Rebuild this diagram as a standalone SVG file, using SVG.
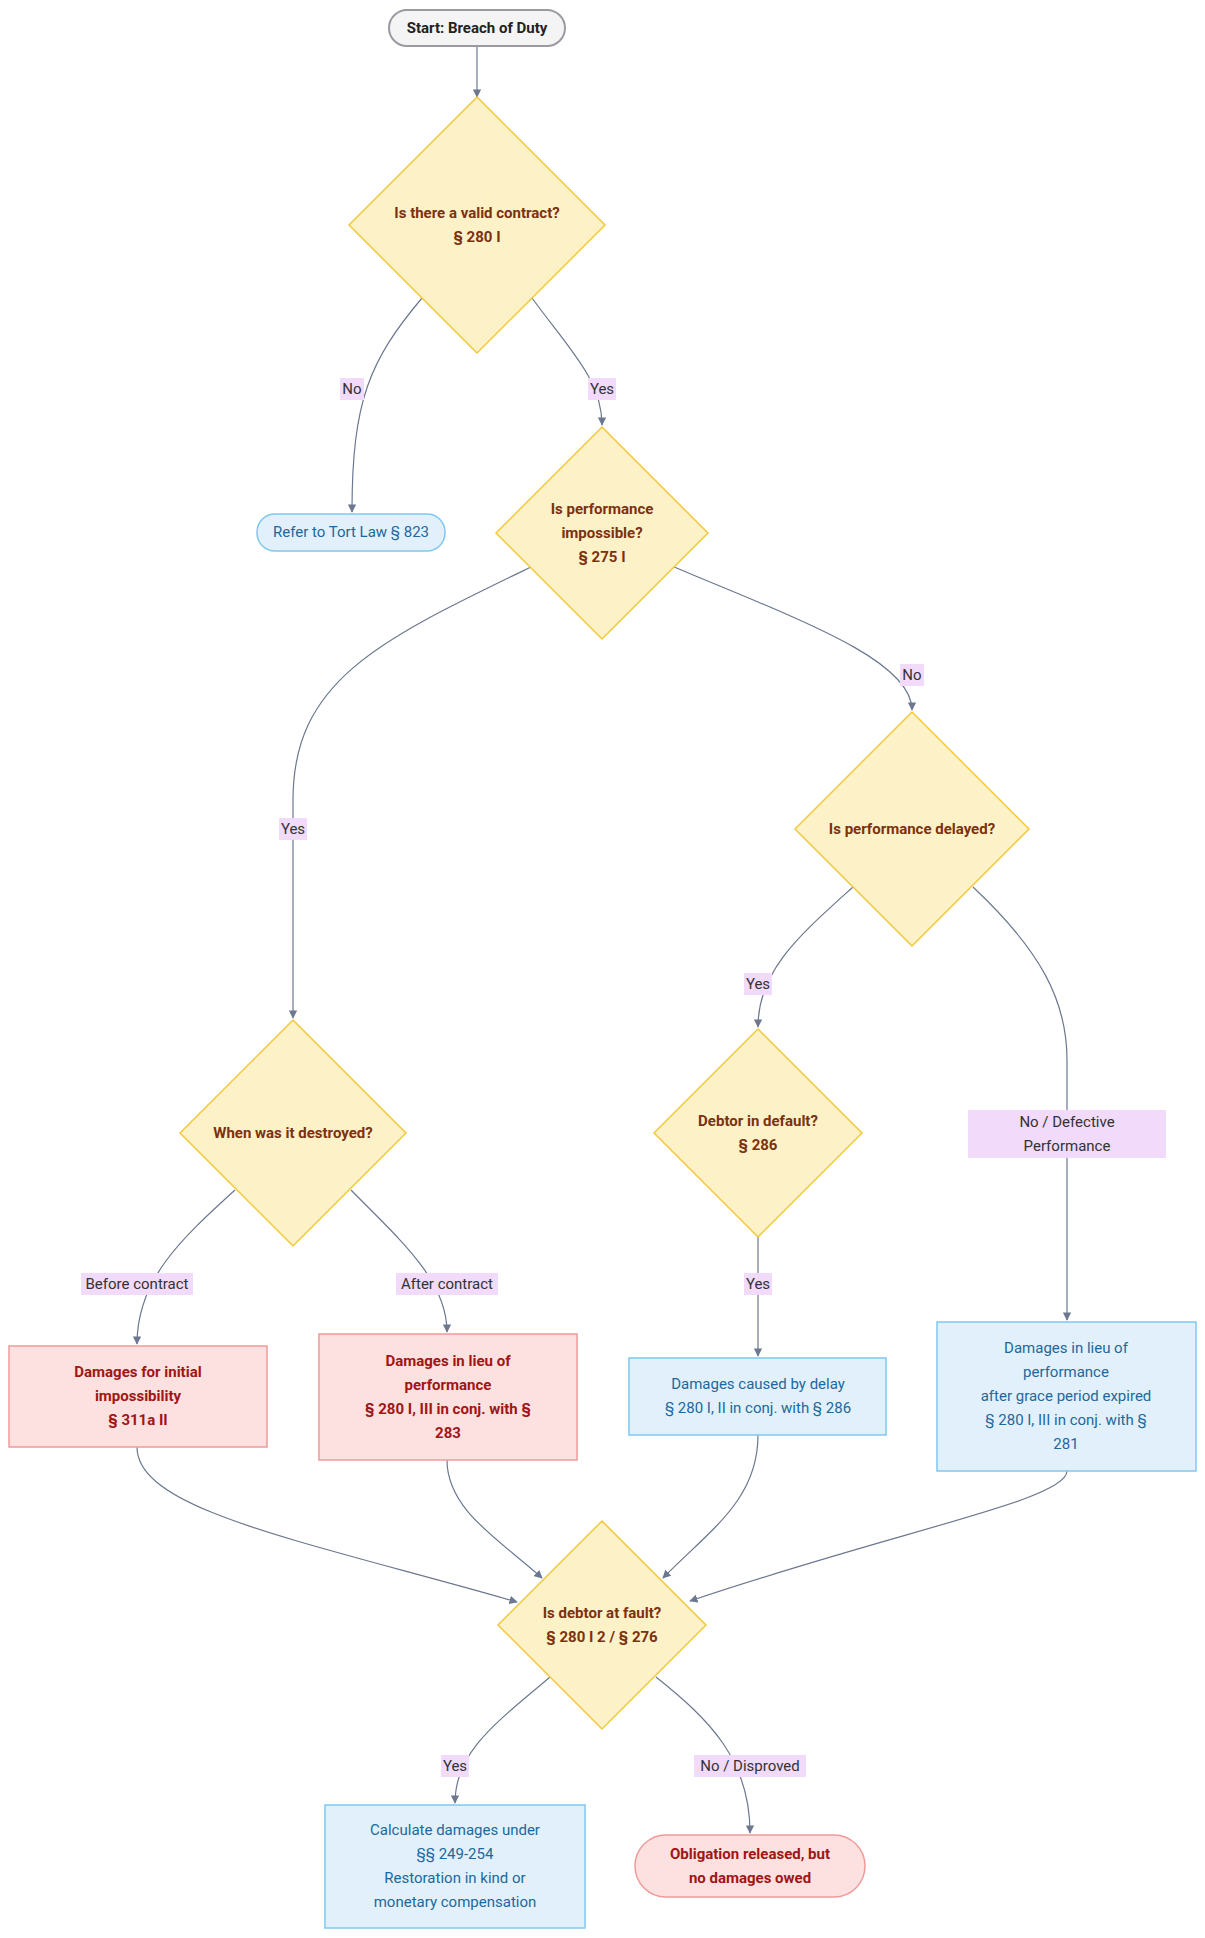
<svg xmlns="http://www.w3.org/2000/svg" width="1205" height="1938" viewBox="0 0 1205 1938">
<style>
text{font-family:Roboto,"Liberation Sans",sans-serif;font-size:15px;text-anchor:middle;dominant-baseline:central}
.d{fill:#fdf1c8;stroke:#f3c93c;stroke-width:1.5}
.dt{fill:#7a3210;font-weight:bold}
.r{fill:#fde0e0;stroke:#f09a9a;stroke-width:1.5}
.rt{fill:#a01515;font-weight:bold}
.b{fill:#e1f0fb;stroke:#80c8ef;stroke-width:1.5}
.bt{fill:#1d689c}
.e{fill:none;stroke:#6b7890;stroke-width:1.2;marker-end:url(#a)}
.lb{fill:#f1dafa}
.lt{fill:#333}
</style>
<defs><marker id="a" viewBox="0 0 10 10" refX="9" refY="5" markerWidth="7" markerHeight="7" orient="auto"><path d="M0,0L10,5L0,10z" fill="#6b7890"/></marker></defs>
<rect width="1205" height="1938" fill="#fff"/>
<g id="edges">
<path class="e" d="M477,46 L477,97"/>
<path class="e" d="M422,298 C370,360 352,400 352,512"/>
<path class="e" d="M532,298 C570,350 602,380 602,425"/>
<path class="e" d="M531,567 C380,640 293,680 293,800 L293,1018"/>
<path class="e" d="M674,567 C800,620 912,660 912,710"/>
<path class="e" d="M853,887 C800,935 758,970 758,1027"/>
<path class="e" d="M973,887 C1040,950 1067,1000 1067,1060 L1067,1320"/>
<path class="e" d="M235,1190 C180,1240 137,1280 137,1344"/>
<path class="e" d="M351,1190 C400,1240 447,1280 447,1332"/>
<path class="e" d="M758,1237 L758,1356"/>
<path class="e" d="M137,1447 C137,1510 300,1540 517,1602"/>
<path class="e" d="M447,1460 C447,1510 500,1540 542,1578"/>
<path class="e" d="M758,1435 C758,1500 710,1530 663,1578"/>
<path class="e" d="M1067,1471 C1067,1500 900,1530 690,1601"/>
<path class="e" d="M550,1677 C500,1720 455,1750 455,1803"/>
<path class="e" d="M656,1677 C710,1720 750,1760 750,1833"/>
<rect class="lb" x="340" y="378" width="24" height="22"/><text class="lt" x="352" y="389">No</text>
<rect class="lb" x="588" y="378" width="28" height="22"/><text class="lt" x="602" y="389">Yes</text>
<rect class="lb" x="900" y="664" width="24" height="22"/><text class="lt" x="912" y="675">No</text>
<rect class="lb" x="279" y="818" width="28" height="22"/><text class="lt" x="293" y="829">Yes</text>
<rect class="lb" x="744" y="973" width="28" height="22"/><text class="lt" x="758" y="984">Yes</text>
<rect class="lb" x="968" y="1110" width="198" height="48"/><text class="lt" x="1067" y="1122">No / Defective</text><text class="lt" x="1067" y="1146">Performance</text>
<rect class="lb" x="81" y="1273" width="112" height="22"/><text class="lt" x="137" y="1284">Before contract</text>
<rect class="lb" x="396" y="1273" width="102" height="22"/><text class="lt" x="447" y="1284">After contract</text>
<rect class="lb" x="744" y="1273" width="28" height="22"/><text class="lt" x="758" y="1284">Yes</text>
<rect class="lb" x="441" y="1755" width="28" height="22"/><text class="lt" x="455" y="1766">Yes</text>
<rect class="lb" x="694" y="1755" width="112" height="22"/><text class="lt" x="750" y="1766">No / Disproved</text>
</g>
<g id="start"><rect x="389" y="10" width="176" height="36" rx="18" fill="#f4f4f4" stroke="#9a9aa2" stroke-width="2"/><text x="477" y="28" font-weight="bold" fill="#222">Start: Breach of Duty</text></g>
<g id="d1"><polygon class="d" points="477,97 605,225 477,353 349,225"/><text class="dt" x="477" y="213">Is there a valid contract?</text><text class="dt" x="477" y="237">§ 280 I</text></g>
<g id="tort"><rect class="b" x="257" y="514" width="188" height="37" rx="18"/><text class="bt" x="351" y="532">Refer to Tort Law § 823</text></g>
<g id="d2"><polygon class="d" points="602,427 708,533 602,639 496,533"/><text class="dt" x="602" y="509">Is performance</text><text class="dt" x="602" y="533">impossible?</text><text class="dt" x="602" y="557">§ 275 I</text></g>
<g id="d3"><polygon class="d" points="912,712 1029,829 912,946 795,829"/><text class="dt" x="912" y="829">Is performance delayed?</text></g>
<g id="d4"><polygon class="d" points="293,1020 406,1133 293,1246 180,1133"/><text class="dt" x="293" y="1133">When was it destroyed?</text></g>
<g id="d5"><polygon class="d" points="758,1029 862,1133 758,1237 654,1133"/><text class="dt" x="758" y="1121">Debtor in default?</text><text class="dt" x="758" y="1145">§ 286</text></g>
<g id="b1"><rect class="r" x="9" y="1346" width="258" height="101"/><text class="rt" x="138" y="1372">Damages for initial</text><text class="rt" x="138" y="1396">impossibility</text><text class="rt" x="138" y="1420">§ 311a II</text></g>
<g id="b2"><rect class="r" x="319" y="1334" width="258" height="126"/><text class="rt" x="448" y="1361">Damages in lieu of</text><text class="rt" x="448" y="1385">performance</text><text class="rt" x="448" y="1409">§ 280 I, III in conj. with §</text><text class="rt" x="448" y="1433">283</text></g>
<g id="b3"><rect class="b" x="629" y="1358" width="257" height="77"/><text class="bt" x="758" y="1384">Damages caused by delay</text><text class="bt" x="758" y="1408">§ 280 I, II in conj. with § 286</text></g>
<g id="b4"><rect class="b" x="937" y="1322" width="259" height="149"/><text class="bt" x="1066" y="1348">Damages in lieu of</text><text class="bt" x="1066" y="1372">performance</text><text class="bt" x="1066" y="1396">after grace period expired</text><text class="bt" x="1066" y="1420">§ 280 I, III in conj. with §</text><text class="bt" x="1066" y="1444">281</text></g>
<g id="d6"><polygon class="d" points="602,1521 706,1625 602,1729 498,1625"/><text class="dt" x="602" y="1613">Is debtor at fault?</text><text class="dt" x="602" y="1637">§ 280 I 2 / § 276</text></g>
<g id="calc"><rect class="b" x="325" y="1805" width="260" height="123"/><text class="bt" x="455" y="1830">Calculate damages under</text><text class="bt" x="455" y="1854">§§ 249-254</text><text class="bt" x="455" y="1878">Restoration in kind or</text><text class="bt" x="455" y="1902">monetary compensation</text></g>
<g id="released"><rect class="r" x="635" y="1835" width="230" height="62" rx="31"/><text class="rt" x="750" y="1854">Obligation released, but</text><text class="rt" x="750" y="1878">no damages owed</text></g>
</svg>
